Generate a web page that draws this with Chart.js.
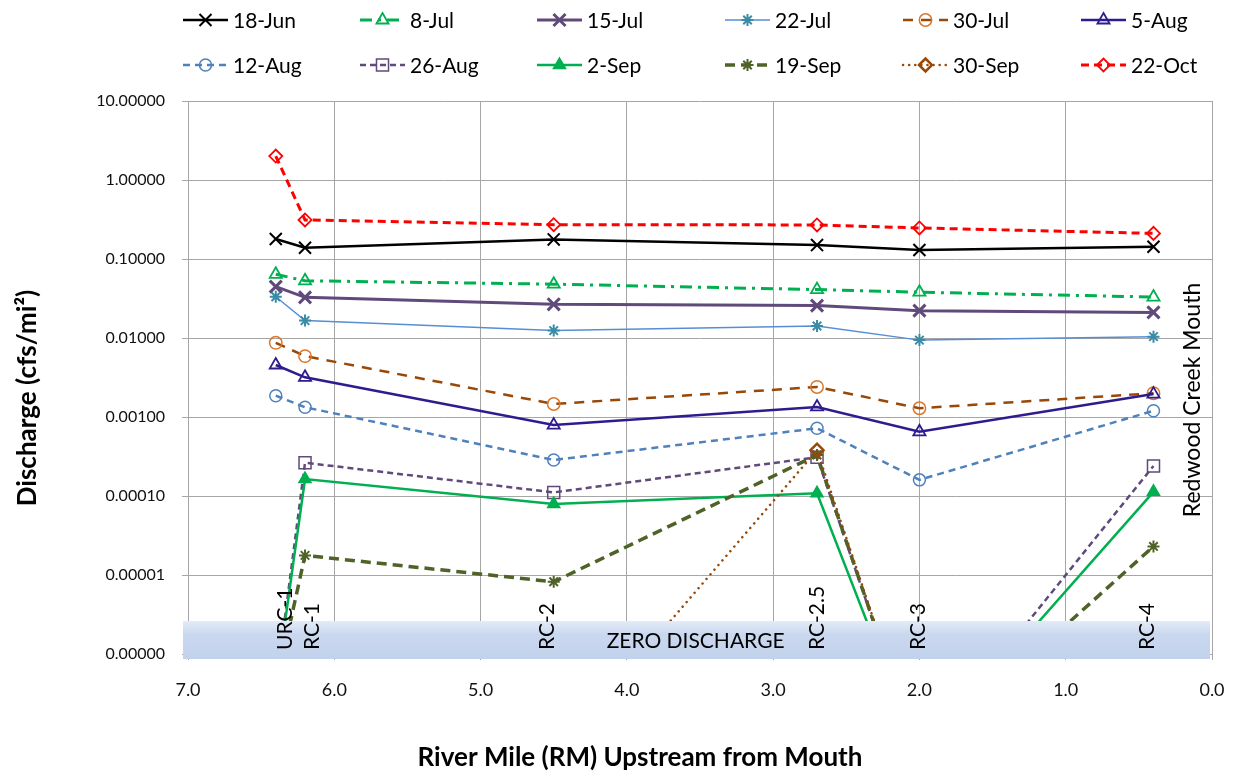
<!DOCTYPE html>
<html>
<head>
<meta charset="utf-8">
<script src="https://cdn.jsdelivr.net/npm/chart.js@4.4.1/dist/chart.umd.min.js"></script>
<style>
html,body{margin:0;padding:0;background:#ffffff;}
#wrap{width:1233px;height:774px;position:relative;}
canvas{display:block;}
</style>
</head>
<body>
<div id="wrap"><canvas id="c" width="1233" height="774"></canvas></div>
<script>
// ---------- data ----------
const stations   = ['URC-1', 'RC-1', 'RC-2', 'RC-2.5', 'RC-3', 'RC-4'];
const riverMile  = [6.4, 6.2, 4.5, 2.7, 2.0, 0.4];
const seriesLabels = ['18-Jun','8-Jul','15-Jul','22-Jul','30-Jul','5-Aug','12-Aug','26-Aug','2-Sep','19-Sep','30-Sep','22-Oct'];

// zero-discharge values are plotted below the axis minimum (hidden by the band)
const ZERO_URC = 3.7e-7;
const ZERO     = 5e-8;

const jun18 = [0.179, 0.139, 0.177, 0.150, 0.130, 0.143];
const jul8  = [0.064, 0.053, 0.048, 0.041, 0.038, 0.033];
const jul15 = [0.0447, 0.0327, 0.0267, 0.0257, 0.0222, 0.0211];
const jul22 = [0.0333, 0.0166, 0.0124, 0.0142, 0.0094, 0.0104];
const jul30 = [0.0087, 0.0059, 0.00146, 0.00240, 0.00129, 0.0020];
const aug5  = [0.00455, 0.00318, 0.00079, 0.00134, 0.00065, 0.00195];
const aug12 = [0.00186, 0.00133, 0.000286, 0.00072, 0.00016, 0.00120];
const aug26 = [ZERO_URC, 0.000264, 0.000111, 0.00031, ZERO, 0.00024];
const sep2  = [ZERO_URC, 0.000164, 0.000079, 0.000108, ZERO, 0.000113];
const sep19 = [ZERO_URC, 0.0000177, 0.0000082, 0.00033, ZERO, 0.000023];
const sep30 = [ZERO, ZERO, ZERO, 0.00038, ZERO, ZERO];
const oct22 = [2.01, 0.312, 0.272, 0.270, 0.247, 0.211];

const seriesValues = [jun18, jul8, jul15, jul22, jul30, aug5, aug12, aug26, sep2, sep19, sep30, oct22];

const xTickValues = [0, 1, 2, 3, 4, 5, 6, 7];
const yTickValues = [10, 1, 0.1, 0.01, 0.001, 0.0001, 0.00001, 0.000001];

// ---------- styles ----------
const FONT = "Lato, 'Open Sans', sans-serif";
const styles = [
  {line:'#000000', w:2.5, dash:[],       ps:'crossRot', r:8.5, pc:'#000000', pf:'rgba(0,0,0,0)', pw:2},
  {line:'#00B050', w:3,   dash:[12,6,3,6], ps:'triangle', r:7, pc:'#00B050', pf:'rgba(0,0,0,0)', pw:1.8},
  {line:'#604A7B', w:3,   dash:[],       ps:'crossRot', r:8.5, pc:'#604A7B', pf:'rgba(0,0,0,0)', pw:3},
  {line:'#558ED5', w:1.5, dash:[],       ps:'star',     r:6,   pc:'#3A8BA5', pf:'rgba(0,0,0,0)', pw:2},
  {line:'#984807', w:2.5, dash:[10,8],   ps:'circle',   r:6.2, pc:'#D9782D', pf:'rgba(0,0,0,0)', pw:1.5},
  {line:'#2D1C8E', w:2.5, dash:[],       ps:'triangle', r:7,   pc:'#2D1C8E', pf:'rgba(0,0,0,0)', pw:1.8},
  {line:'#4F81BD', w:2.5, dash:[7,5],    ps:'circle',   r:6,   pc:'#4F81BD', pf:'rgba(0,0,0,0)', pw:1.5},
  {line:'#604A7B', w:2.5, dash:[6,4],    ps:'rect',     r:8.5, pc:'#604A7B', pf:'rgba(0,0,0,0)', pw:1.5},
  {line:'#00B050', w:2.5, dash:[],       ps:'triangle', r:7,   pc:'#00B050', pf:'#00B050',       pw:1.5},
  {line:'#4F6228', w:3.5, dash:[10,6],   ps:'star',     r:6,   pc:'#4F6228', pf:'rgba(0,0,0,0)', pw:2},
  {line:'#984807', w:2.5, dash:[0.1,6],  ps:'rectRot',  r:6.5, pc:'#984807', pf:'rgba(0,0,0,0)', pw:2.5, cap:'round'},
  {line:'#FF0000', w:3,   dash:[8,5],    ps:'rectRot',  r:6.5, pc:'#FF0000', pf:'rgba(0,0,0,0)', pw:1.8}
];

const PLOT = {left:188, right:1212, top:101, bottom:654, W:1233, H:774};

const n = seriesLabels.length;
const datasets = seriesLabels.map((lab, i) => {
  const s = styles[i];
  return {
    label: lab,
    data: riverMile.map((x, k) => ({x: x, y: seriesValues[i][k]})),
    borderColor: s.line,
    borderWidth: s.w,
    borderDash: s.dash,
    borderCapStyle: s.cap || 'butt',
    pointStyle: s.ps,
    pointRadius: s.r,
    pointHoverRadius: s.r,
    pointBorderColor: s.pc,
    pointBackgroundColor: s.pf,
    pointBorderWidth: s.pw,
    fill: false,
    tension: 0,
    order: n - i
  };
});

function drawMarker(ctx, s, x, y) {
  ctx.save();
  ctx.setLineDash([]);
  ctx.strokeStyle = s.pc;
  ctx.fillStyle = s.pf;
  ctx.lineWidth = s.pw;
  if (Chart.helpers && Chart.helpers.drawPoint) {
    Chart.helpers.drawPoint(ctx, {pointStyle: s.ps, radius: s.r, borderWidth: s.pw, rotation: 0}, x, y);
  }
  ctx.restore();
}

const overlay = {
  id: 'overlay',
  afterDatasetsDraw(chart) {
    const ctx = chart.ctx;
    const ca = chart.chartArea;
    const xs = chart.scales.x;
    // zero-discharge band
    const bTop = ca.bottom - 33, bBot = ca.bottom + 5;
    const g = ctx.createLinearGradient(0, bTop, 0, bBot);
    g.addColorStop(0, '#e3ebf6');
    g.addColorStop(0.35, '#cad8ef');
    g.addColorStop(1, '#c2d2ec');
    ctx.save();
    ctx.fillStyle = g;
    ctx.fillRect(ca.left - 5, bTop, (ca.right - 2) - (ca.left - 5), bBot - bTop);
    ctx.fillStyle = '#000';
    ctx.font = "21px " + FONT;
    ctx.textAlign = 'center';
    ctx.textBaseline = 'middle';
    ctx.fillText('ZERO DISCHARGE', xs.getPixelForValue(3.53), ca.bottom - 13);
    // station labels
    const offs = [9, 7, -6, 0, -1, -6];
    stations.forEach((st, k) => {
      const px = xs.getPixelForValue(riverMile[k]) + offs[k];
      ctx.save();
      ctx.translate(px, ca.bottom - 4);
      ctx.rotate(-Math.PI / 2);
      ctx.textAlign = 'left';
      ctx.textBaseline = 'middle';
      ctx.fillText(st, 0, 0);
      ctx.restore();
    });
    // Redwood Creek Mouth
    ctx.save();
    ctx.font = "23px " + FONT;
    ctx.translate(ca.right - 19, 400);
    ctx.rotate(-Math.PI / 2);
    ctx.textAlign = 'center';
    ctx.textBaseline = 'middle';
    ctx.fillText('Redwood Creek Mouth', 0, 0);
    ctx.restore();
    ctx.restore();
  },
  afterDraw(chart) {
    const ctx = chart.ctx;
    ctx.save();
    // legend
    const colX = [183, 360, 537, 725, 903, 1081];
    const rowY = [20, 65];
    ctx.font = "21px " + FONT;
    ctx.textBaseline = 'middle';
    ctx.textAlign = 'left';
    seriesLabels.forEach((lab, i) => {
      const s = styles[i];
      const x0 = colX[i % 6], y0 = rowY[Math.floor(i / 6)];
      ctx.save();
      ctx.strokeStyle = s.line;
      ctx.lineWidth = s.w;
      ctx.setLineDash(s.dash);
      ctx.lineCap = s.cap || 'butt';
      ctx.beginPath();
      ctx.moveTo(x0, y0);
      ctx.lineTo(x0 + 45, y0);
      ctx.stroke();
      ctx.restore();
      drawMarker(ctx, s, x0 + 22.5, y0);
      ctx.fillStyle = '#000';
      ctx.fillText(lab, x0 + 50, y0 + 1);
    });
    // axis titles
    ctx.font = "bold 26px " + FONT;
    ctx.fillStyle = '#000';
    ctx.textAlign = 'center';
    ctx.textBaseline = 'middle';
    ctx.fillText('River Mile (RM) Upstream from Mouth', 640, 758);
    ctx.save();
    ctx.translate(28, 398);
    ctx.rotate(-Math.PI / 2);
    ctx.fillText('Discharge (cfs/mi\u00B2)', 0, 0);
    ctx.restore();
    ctx.restore();
  }
};

new Chart(document.getElementById('c'), {
  type: 'line',
  data: {datasets: datasets},
  plugins: [overlay],
  options: {
    responsive: false,
    animation: false,
    events: [],
    layout: {padding: {top: PLOT.top, right: PLOT.W - PLOT.right, left: 0, bottom: 0}},
    plugins: {legend: {display: false}, tooltip: {enabled: false}, title: {display: false}},
    scales: {
      x: {
        type: 'linear', reverse: true, min: 0, max: 7,
        afterBuildTicks: s => { s.ticks = xTickValues.map(v => ({value: v})); },
        afterFit: s => { s.height = PLOT.H - PLOT.bottom; },
        ticks: {callback: v => Number(v).toFixed(1), font: {family: FONT, size: 18}, color: '#111', padding: 19, maxRotation: 0, autoSkip: false},
        grid: {color: '#a6a6a6', lineWidth: 1, tickLength: 6, drawTicks: true},
        border: {color: '#a6a6a6', width: 1}
      },
      y: {
        type: 'logarithmic', min: 0.000001, max: 10,
        afterBuildTicks: s => { s.ticks = yTickValues.map(v => ({value: v})); },
        afterFit: s => { s.width = PLOT.left; },
        ticks: {callback: v => Number(v).toFixed(5), font: {family: FONT, size: 16}, color: '#111', padding: 17, autoSkip: false},
        grid: {color: '#a6a6a6', lineWidth: 1, tickLength: 6, drawTicks: true},
        border: {color: '#a6a6a6', width: 1}
      }
    }
  }
});
</script>
</body>
</html>
